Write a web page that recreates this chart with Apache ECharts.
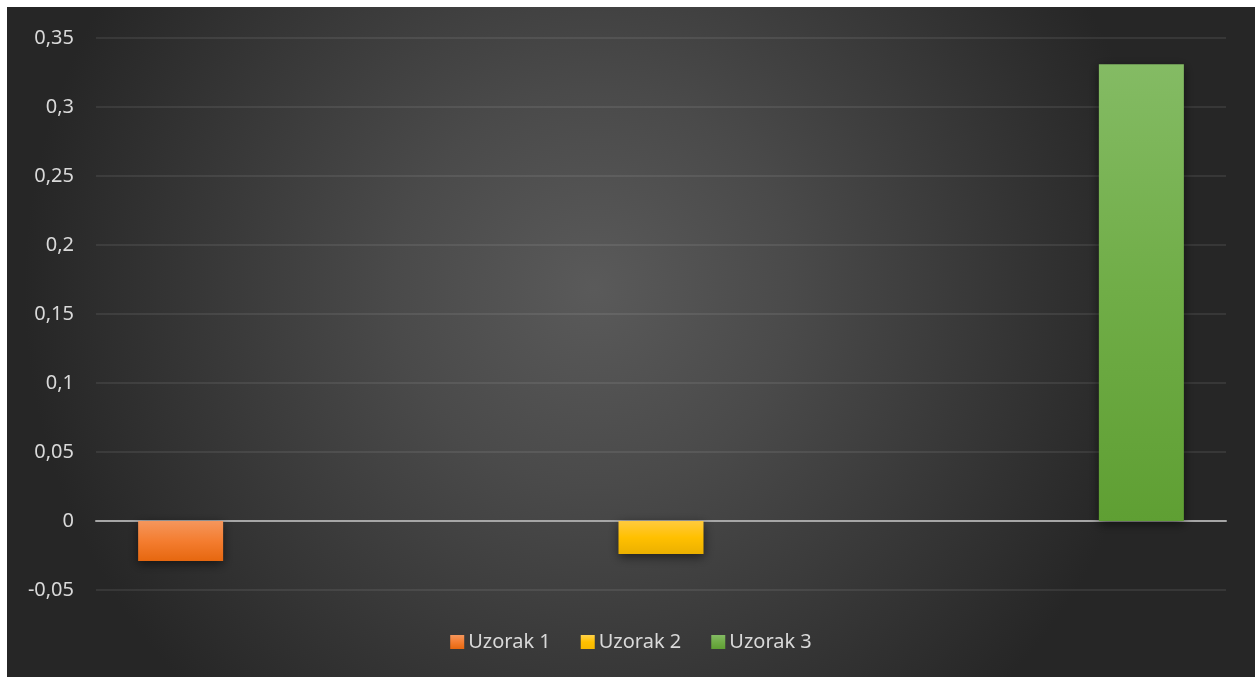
<!DOCTYPE html>
<html>
<head>
<meta charset="utf-8">
<script src="https://cdn.jsdelivr.net/npm/echarts@6/dist/echarts.min.js"></script>
<style>
html,body{margin:0;padding:0;background:#fff;}
#c{position:absolute;left:7px;top:7px;width:1248px;height:670px;}
</style>
</head>
<body>
<div id="c"></div>
<script>
var categories = ['A', 'B', 'C'];
var seriesNames = ['Uzorak 1', 'Uzorak 2', 'Uzorak 3'];
var uzorak1 = [-0.029, '-', '-'];
var uzorak2 = ['-', -0.024, '-'];
var uzorak3 = ['-', '-', 0.331];
var yTicks = { min: -0.05, max: 0.35, interval: 0.05 };

var font = '"Noto Sans", "Open Sans", sans-serif';
function grad(top, mid, bottom) {
  return new echarts.graphic.LinearGradient(0, 0, 0, 1, [
    { offset: 0, color: top }, { offset: 0.5, color: mid }, { offset: 1, color: bottom }
  ]);
}
var colors = [
  grad('#f5965c', '#f47d30', '#e6670f'),
  grad('#ffca3e', '#ffc000', '#ebb000'),
  grad('#84bb64', '#70ad47', '#5f9f33')
];
var legendColors = [
  grad('#f5965c', '#f47d30', '#e6670f'),
  grad('#ffd24a', '#ffc000', '#f5b800'),
  grad('#84bb64', '#70ad47', '#5f9f33')
];
var dataSets = [uzorak1, uzorak2, uzorak3];

var chart = echarts.init(document.getElementById('c'));
chart.setOption({
  backgroundColor: new echarts.graphic.RadialGradient(0.47, 0.42, 0.85, [
    { offset: 0, color: '#5a5a5a' },
    { offset: 0.35, color: '#4a4a4a' },
    { offset: 1, color: '#262626' }
  ]),
  animation: false,
  textStyle: { fontFamily: font },
  grid: { left: 89, right: 29, top: 31, bottom: 87 },
  legend: {
    bottom: 20,
    left: 'center',
    itemWidth: 14,
    itemHeight: 14,
    itemGap: 30,
    icon: 'rect',
    textStyle: { color: '#d9d9d9', fontSize: 20, fontFamily: font, padding: [0, 0, 0, -1] },
    data: seriesNames.map(function (n, i) { return { name: n, itemStyle: { color: legendColors[i] } }; })
  },
  xAxis: {
    type: 'category',
    data: categories,
    axisLine: { onZero: true, lineStyle: { color: '#a6a6a6', width: 2 } },
    axisTick: { show: false },
    axisLabel: { show: false },
    splitLine: { show: false }
  },
  yAxis: {
    type: 'value',
    min: yTicks.min,
    max: yTicks.max,
    interval: yTicks.interval,
    axisLine: { show: false },
    axisTick: { show: false },
    axisLabel: {
      color: '#d9d9d9',
      fontSize: 20,
      margin: 22,
      fontFamily: font,
      formatter: function (v) { return String(Math.round(v * 100) / 100).replace('.', ','); }
    },
    splitLine: { lineStyle: { color: 'rgba(255,255,255,0.08)', width: 2 } }
  },
  series: seriesNames.map(function (n, i) {
    return {
      name: n,
      type: 'bar',
      data: dataSets[i],
      barWidth: 85,
      barGap: '22%',
      itemStyle: {
        color: colors[i],
        shadowColor: 'rgba(0,0,0,0.55)',
        shadowBlur: 10,
        shadowOffsetY: 3
      }
    };
  })
});
</script>
</body>
</html>
